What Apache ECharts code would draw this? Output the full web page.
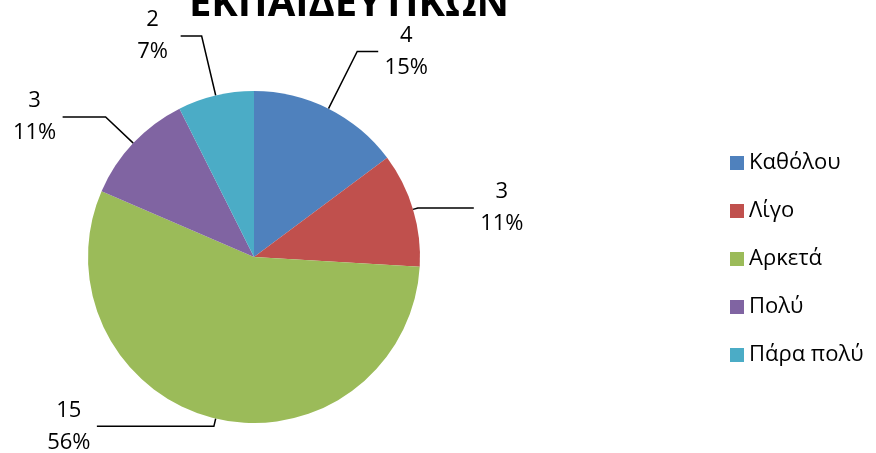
<!DOCTYPE html>
<html>
<head>
<meta charset="utf-8">
<script src="https://cdn.jsdelivr.net/npm/echarts@6/dist/echarts.min.js"></script>
<style>
html,body{margin:0;padding:0;background:#fff;}
#chart{width:876px;height:453px;}
</style>
</head>
<body>
<div id="chart"></div>
<script>
var categories = ['Καθόλου', 'Λίγο', 'Αρκετά', 'Πολύ', 'Πάρα πολύ'];
var counts = [4, 3, 15, 3, 2];
var colors = ['#4F81BD', '#C0504D', '#9BBB59', '#8064A2', '#4BACC6'];
var titleText = 'ΕΚΠΑΙΔΕΥΤΙΚΩΝ';
// leader line lengths per slice [radial, horizontal]
var leaderLens = [[64, 21], [5, 56], [8, 117], [38, 43], [61, 21]];

var font = 'Open Sans, Liberation Sans, sans-serif';
var pieData = categories.map(function(c, i){
	return {
		name: c,
		value: counts[i],
		labelLine: {length: leaderLens[i][0], length2: leaderLens[i][1]}
	};
});

var chart = echarts.init(document.getElementById('chart'));
chart.setOption({
	color: colors,
	animation: false,
	title: {
		text: titleText,
		left: 344,
		textAlign: 'center',
		top: -20,
		textStyle: {
			fontFamily: font,
			fontWeight: 'bold',
			fontSize: 40,
			color: '#000'
		}
	},
	legend: {
		orient: 'vertical',
		left: 725,
		top: 147,
		itemWidth: 14,
		itemHeight: 14,
		itemGap: 26,
		icon: 'rect',
		textStyle: {
			fontFamily: font,
			fontSize: 22,
			color: '#000'
		},
		data: categories
	},
	series: [{
		type: 'pie',
		center: [254, 257],
		radius: 166,
		startAngle: 90,
		clockwise: true,
		avoidLabelOverlap: false,
		data: pieData,
		label: {
			show: true,
			formatter: function(p){
				return '{v|' + p.value + '}\n{v|' + Math.round(p.percent) + '%}';
			},
			rich: {
				v: {
					width: 46,
					align: 'center',
					fontFamily: font,
					fontSize: 22,
					lineHeight: 32,
					color: '#000'
				}
			}
		},
		labelLine: {
			show: true,
			lineStyle: {color: '#000', width: 1.5}
		},
		itemStyle: {borderWidth: 0}
	}]
});
</script>
</body>
</html>
